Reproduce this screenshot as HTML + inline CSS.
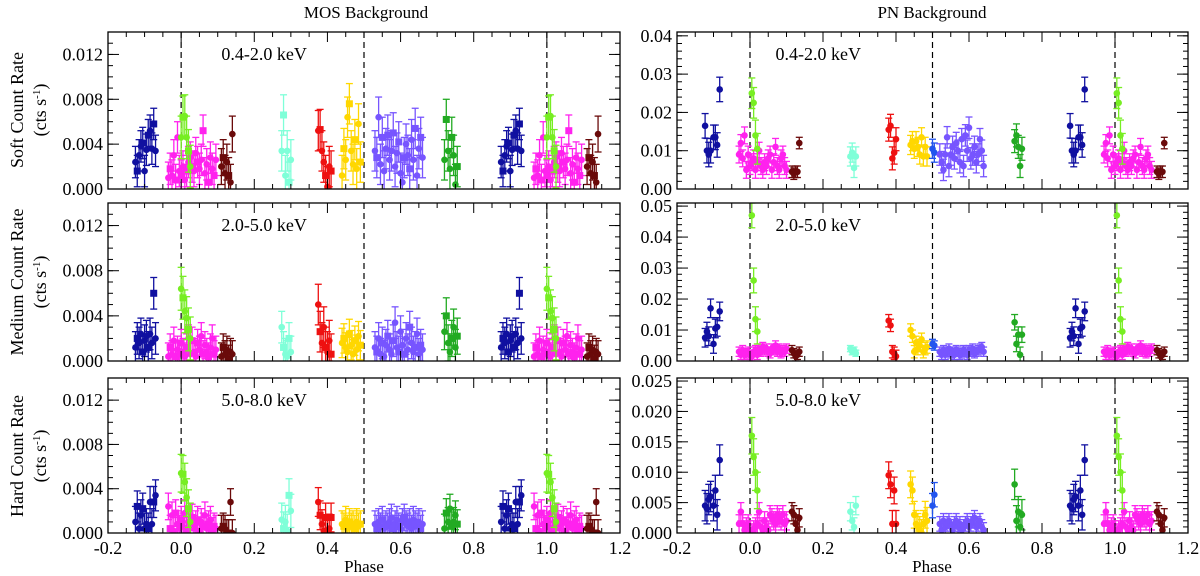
<!DOCTYPE html>
<html><head><meta charset="utf-8">
<style>
html,body{margin:0;padding:0;background:#fff;}
svg{display:block;font-family:"Liberation Serif",serif;}
</style></head>
<body>
<svg id="chart" width="1200" height="576" viewBox="0 0 1200 576" xmlns="http://www.w3.org/2000/svg">
<text x="366" y="18" font-size="17" text-anchor="middle">MOS Background</text>
<text x="932" y="18" font-size="17" text-anchor="middle">PN Background</text>
<text x="364" y="572" font-size="17" text-anchor="middle">Phase</text>
<text x="932" y="572" font-size="17" text-anchor="middle">Phase</text>
<g font-size="18" text-anchor="middle">
<text transform="translate(23,110) rotate(-90)">Soft Count Rate</text>
<text transform="translate(46,110) rotate(-90)">(cts s<tspan font-size="11" dy="-6">-1</tspan><tspan dy="6">)</tspan></text>
</g>
<g font-size="18" text-anchor="middle">
<text transform="translate(23,282) rotate(-90)">Medium Count Rate</text>
<text transform="translate(46,282) rotate(-90)">(cts s<tspan font-size="11" dy="-6">-1</tspan><tspan dy="6">)</tspan></text>
</g>
<g font-size="18" text-anchor="middle">
<text transform="translate(23,456) rotate(-90)">Hard Count Rate</text>
<text transform="translate(46,456) rotate(-90)">(cts s<tspan font-size="11" dy="-6">-1</tspan><tspan dy="6">)</tspan></text>
</g>
</svg>
<script>
// ---------- data (MOS values in cts/s) ----------
const xTicks = [-0.2, 0.0, 0.2, 0.4, 0.6, 0.8, 1.0, 1.2];
const xTickLabels = ["-0.2","0.0","0.2","0.4","0.6","0.8","1.0","1.2"];
const bandLabels = ["0.4-2.0 keV","2.0-5.0 keV","5.0-8.0 keV"];
const phaseMarkers = [0.0, 0.5, 1.0];

const mosNavyPhase = [-0.125,-0.12,-0.115,-0.11,-0.105,-0.1,-0.095,-0.09,-0.085,-0.08,-0.075,-0.07];
const mosNavySoft = [2.4,1.6,3.0,3.8,4.1,1.6,3.5,4.8,5.2,3.6,5.8,3.4];
const mosNavyMid = [1.2,2.0,1.6,2.4,0.8,1.8,2.2,1.2,2.4,1.6,6.0,2.0];
const mosNavyHard = [1.0,2.4,0.4,1.6,2.2,0.4,0.8,0.4,2.8,0.8,2.8,3.4];

const mosMagentaPhase = [-0.035,-0.03,-0.025,-0.02,-0.015,-0.01,-0.005,0,0.005,0.01,0.015,0.02,0.025,0.03,0.035,0.04,0.045,0.05,0.055,0.06,0.065,0.07,0.075,0.08,0.085,0.09,0.095];
const mosMagentaSoft = [1.0,1.8,1.2,3.0,0.8,4.6,1.6,1.2,2.0,0.8,1.6,2.4,2.8,2.0,1.6,3.2,2.4,1.8,2.6,5.2,1.4,2.2,0.6,2.8,1.8,1.2,2.6];
const mosMagentaMid = [0.4,1.2,0.6,1.8,0.4,1.0,0.6,1.6,0.8,0.4,1.2,2.0,0.6,1.8,0.8,0.4,1.6,1.0,2.2,0.6,1.4,0.8,0.4,1.2,2.0,0.6,1.0];
const mosMagentaHard = [2.4,0.4,1.6,0.2,1.8,0.8,0.4,1.2,0.6,1.8,0.2,1.0,0.6,1.4,0.4,0.8,1.2,0.2,1.0,0.6,1.6,0.4,0.8,1.2,0.2,0.6,0.4];

const mosGreenPhase = [0.0,0.005,0.01,0.015,0.02,0.025];
const mosGreenSoft = [4.6,6.4,6.5,4.6,3.4,2.0];
const mosGreenMid = [6.4,5.6,4.4,3.8,2.8,2.0];
const mosGreenHard = [5.4,5.3,4.6,3.2,2.2,1.0];

const mosDarkredPhase = [0.11,0.115,0.12,0.125,0.13,0.135,0.14];
const mosDarkredSoft = [2.0,2.8,1.4,2.4,1.2,0.6,4.9];
const mosDarkredMid = [0.4,1.2,0.6,1.0,0.2,0.8,0.6];
const mosDarkredHard = [0.4,0.6,0.4,0.0,0.0,2.8,0.0];

const mosAquaPhase = [0.275,0.28,0.285,0.29,0.295,0.3];
const mosAquaSoft = [3.4,6.6,1.2,3.4,0.6,2.6];
const mosAquaMid = [3.0,1.2,0.6,0.4,2.0,0.8];
const mosAquaHard = [1.2,0.4,1.0,0.2,3.4,2.0];

const mosRedPhase = [0.375,0.38,0.385,0.39,0.395,0.4,0.405,0.41];
const mosRedSoft = [5.2,5.3,3.4,2.4,1.2,0.2,2.0,1.6];
const mosRedMid = [5.0,2.6,1.6,3.0,1.2,0.8,1.8,0.6];
const mosRedHard = [2.8,1.6,0.8,0.2,1.4,0.2,0.4,1.4];

const mosGoldPhase = [0.44,0.445,0.45,0.455,0.46,0.465,0.47,0.475,0.48,0.485,0.49];
const mosGoldSoft = [1.2,3.6,2.6,6.4,7.6,3.4,2.2,4.4,1.8,5.8,2.4];
const mosGoldMid = [1.6,2.0,1.2,0.8,2.4,1.4,0.6,1.8,1.0,2.2,1.4];
const mosGoldHard = [0.8,0.6,1.2,0.4,1.0,0.6,0.8,0.4,1.0,0.6,0.8];

const mosPurplePhase = [0.53,0.535,0.54,0.545,0.55,0.555,0.56,0.565,0.57,0.575,0.58,0.585,0.59,0.595,0.6,0.605,0.61,0.615,0.62,0.625,0.63,0.635,0.64,0.645,0.65,0.655,0.66];
const mosPurpleSoft = [3.4,2.8,6.4,2.2,4.6,1.6,3.6,4.8,2.6,3.4,5.0,2.0,3.2,4.2,1.4,0.6,2.8,4.0,3.0,1.8,4.4,2.6,5.4,1.2,3.6,4.6,2.8];
const mosPurpleMid = [1.2,0.8,2.0,0.6,1.6,0.4,1.4,2.2,1.0,0.6,1.8,3.4,1.2,0.8,2.6,1.4,0.6,2.0,1.0,3.0,1.6,0.8,1.2,2.4,0.6,1.4,1.0];
const mosPurpleHard = [0.8,0.4,1.0,0.6,1.2,0.4,0.8,0.6,1.0,1.4,0.4,0.8,1.2,0.6,0.4,1.0,1.4,0.8,0.6,1.0,0.4,1.2,0.8,0.6,1.0,0.4,0.8];

const mosGreen2Phase = [0.72,0.725,0.73,0.735,0.74,0.745,0.75,0.755];
const mosGreen2Soft = [2.6,6.2,3.4,1.8,4.6,3.0,0.4,2.0];
const mosGreen2Mid = [2.6,4.0,1.6,0.8,2.0,3.0,1.2,2.2];
const mosGreen2Hard = [0.4,1.8,1.0,2.2,0.6,1.0,1.6,0.8];

// ---------- data (PN values in cts/s) ----------
const pnNavyPhase = [-0.123,-0.118,-0.113,-0.108,-0.1,-0.095,-0.09,-0.083];
const pnNavySoft = [0.0165,0.010,0.009,0.010,0.0135,0.0135,0.0115,0.026];
const pnNavyMid = [0.0075,0.0095,0.008,0.017,0.0055,0.0105,0.011,0.016];
const pnNavyHard = [0.0045,0.004,0.0055,0.006,0.0045,0.007,0.003,0.012];

const pnMagentaPhase = [-0.03,-0.025,-0.02,-0.015,-0.01,-0.005,0,0.005,0.01,0.015,0.02,0.025,0.03,0.035,0.04,0.045,0.05,0.055,0.06,0.065,0.07,0.075,0.08,0.085,0.09,0.095,0.1];
const pnMagentaSoft = [0.009,0.012,0.008,0.014,0.005,0.009,0.006,0.007,0.008,0.005,0.007,0.010,0.006,0.005,0.007,0.006,0.008,0.009,0.005,0.007,0.011,0.006,0.005,0.008,0.009,0.006,0.005];
const pnMagentaMid = [0.003,0.002,0.0035,0.002,0.0025,0.003,0.002,0.0015,0.003,0.0035,0.002,0.004,0.003,0.0045,0.0035,0.004,0.003,0.0025,0.004,0.0035,0.005,0.003,0.004,0.0025,0.0035,0.003,0.004];
const pnMagentaHard = [0.0015,0.0035,0.0015,0.0005,0.001,0.0015,0.0005,0,0.0005,0.001,0.0015,0.0035,0.001,0.0005,0.002,0.001,0.0005,0.003,0.0025,0.002,0.0015,0.003,0.0025,0.002,0.003,0.0015,0.002];

const pnGreenPhase = [0.005,0.01,0.015,0.02];
const pnGreenSoft = [0.025,0.0225,0.014,0.0105];
const pnGreenMid = [0.047,0.026,0.0135,0.0095];
const pnGreenHard = [0.016,0.0125,0.010,0.007];

const pnDarkredPhase = [0.115,0.12,0.125,0.13,0.135];
const pnDarkredSoft = [0.0045,0.004,0.0045,0.0045,0.012];
const pnDarkredMid = [0.0035,0.0025,0.0015,0.002,0.003];
const pnDarkredHard = [0.0035,0.003,0.0015,0.0005,0.0025];

const pnAquaPhase = [0.275,0.28,0.285,0.29];
const pnAquaSoft = [0.0085,0.0095,0.0055,0.0085];
const pnAquaMid = [0.004,0.003,0.0035,0.0025];
const pnAquaHard = [0.0035,0.002,0.001,0.0045];

const pnRedPhase = [0.38,0.385,0.39,0.395,0.4];
const pnRedSoft = [0.0155,0.0165,0.008,0.0095,0.013];
const pnRedMid = [0.013,0.0115,0.003,0.0025,0.0015];
const pnRedHard = [0.0095,0.008,0.0015,0.007,0.0015];

const pnGoldPhase = [0.44,0.445,0.45,0.455,0.46,0.465,0.47,0.475,0.48,0.485];
const pnGoldSoft = [0.0115,0.0125,0.0105,0.0125,0.011,0.009,0.0135,0.0085,0.011,0.0085];
const pnGoldMid = [0.010,0.008,0.003,0.006,0.004,0.005,0.007,0.003,0.004,0.0045];
const pnGoldHard = [0.008,0.007,0.003,0.0015,0.001,0.0005,0,0.0015,0.003,0.002];

const pnBluePhase = [0.5,0.505];
const pnBlueSoft = [0.0105,0.0095];
const pnBlueMid = [0.0055,0.005];
const pnBlueHard = [0.0045,0.0063];

const pnPurplePhase = [0.52,0.525,0.53,0.535,0.54,0.545,0.55,0.555,0.56,0.565,0.57,0.575,0.58,0.585,0.59,0.595,0.6,0.605,0.61,0.615,0.62,0.625,0.63,0.635,0.64];
const pnPurpleSoft = [0.009,0.007,0.005,0.009,0.0135,0.006,0.009,0.011,0.008,0.012,0.010,0.007,0.013,0.006,0.014,0.010,0.016,0.008,0.009,0.011,0.007,0.009,0.013,0.010,0.006];
const pnPurpleMid = [0.003,0.002,0.0035,0.002,0.003,0.004,0.0025,0.003,0.002,0.0035,0.003,0.002,0.0025,0.0035,0.003,0.002,0.0035,0.003,0.004,0.0025,0.003,0.0035,0.004,0.0045,0.003];
const pnPurpleHard = [0.0015,0.0005,0.002,0.001,0.0015,0.002,0.001,0.0005,0.0015,0.002,0.001,0.0015,0.0005,0.001,0.0015,0.002,0.001,0.0015,0.002,0.0025,0.001,0.0015,0.002,0.001,0.0005];

const pnGreen2Phase = [0.725,0.73,0.735,0.74,0.745];
const pnGreen2Soft = [0.0125,0.014,0.011,0.006,0.0105];
const pnGreen2Mid = [0.0125,0.0055,0.0085,0.002,0.0085];
const pnGreen2Hard = [0.008,0.002,0.0035,0.001,0.003];

// ---------- rendering ----------
const NS = "http://www.w3.org/2000/svg";
const svg = document.getElementById("chart");
function mk(tag, attrs, parent) {
  const e = document.createElementNS(NS, tag);
  for (const k in attrs) e.setAttribute(k, attrs[k]);
  parent.appendChild(e);
  return e;
}

const panelRows = [{top:32,bottom:189},{top:203,bottom:361},{top:378,bottom:533}];
const panelCols = [{left:108,right:620,bandX:0.11},{left:677,right:1188,bandX:0.07}];

const mosAxes = [
  {max:0.014, major:[0,0.004,0.008,0.012], labels:["0.000","0.004","0.008","0.012"], minor:0.001},
  {max:0.014, major:[0,0.004,0.008,0.012], labels:["0.000","0.004","0.008","0.012"], minor:0.001},
  {max:0.014, major:[0,0.004,0.008,0.012], labels:["0.000","0.004","0.008","0.012"], minor:0.001}
];
const pnAxes = [
  {max:0.041, major:[0,0.01,0.02,0.03,0.04], labels:["0.00","0.01","0.02","0.03","0.04"], minor:0.002},
  {max:0.051, major:[0,0.01,0.02,0.03,0.04,0.05], labels:["0.00","0.01","0.02","0.03","0.04","0.05"], minor:0.002},
  {max:0.0255, major:[0,0.005,0.01,0.015,0.02,0.025], labels:["0.000","0.005","0.010","0.015","0.020","0.025"], minor:0.001}
];

const C = {navy:"#1010a0", magenta:"#ff22ee", green:"#77ee22", darkred:"#6a0a0a", aqua:"#7fffd8", red:"#ee1010", gold:"#ffd700", purple:"#7755ff", green2:"#22aa22", blue:"#2255ee"};

const mosSeries = [
  {n:"navy",p:mosNavyPhase,v:[mosNavySoft,mosNavyMid,mosNavyHard],e:[1.4,1.4,1.4],rep:true},
  {n:"magenta",p:mosMagentaPhase,v:[mosMagentaSoft,mosMagentaMid,mosMagentaHard],e:[1.4,1.2,1.2],rep:true},
  {n:"green",p:mosGreenPhase,v:[mosGreenSoft,mosGreenMid,mosGreenHard],e:[1.9,1.9,1.7],rep:true},
  {n:"darkred",p:mosDarkredPhase,v:[mosDarkredSoft,mosDarkredMid,mosDarkredHard],e:[1.6,1.2,1.2],rep:true},
  {n:"aqua",p:mosAquaPhase,v:[mosAquaSoft,mosAquaMid,mosAquaHard],e:[1.8,1.4,1.5],rep:false},
  {n:"red",p:mosRedPhase,v:[mosRedSoft,mosRedMid,mosRedHard],e:[1.8,1.8,1.3],rep:false},
  {n:"gold",p:mosGoldPhase,v:[mosGoldSoft,mosGoldMid,mosGoldHard],e:[1.8,1.3,1.2],rep:false},
  {n:"purple",p:mosPurplePhase,v:[mosPurpleSoft,mosPurpleMid,mosPurpleHard],e:[1.8,1.4,1.2],rep:false},
  {n:"green2",p:mosGreen2Phase,v:[mosGreen2Soft,mosGreen2Mid,mosGreen2Hard],e:[1.8,1.6,1.3],rep:false}
];
const pnSeries = [
  {n:"navy",p:pnNavyPhase,v:[pnNavySoft,pnNavyMid,pnNavyHard],e:[3.2,3.0,2.5],rep:true},
  {n:"magenta",p:pnMagentaPhase,v:[pnMagentaSoft,pnMagentaMid,pnMagentaHard],e:[2.2,1.5,1.5],rep:true},
  {n:"green",p:pnGreenPhase,v:[pnGreenSoft,pnGreenMid,pnGreenHard],e:[4.0,4.0,3.0],rep:true},
  {n:"darkred",p:pnDarkredPhase,v:[pnDarkredSoft,pnDarkredMid,pnDarkredHard],e:[1.5,1.5,1.5],rep:true},
  {n:"aqua",p:pnAquaPhase,v:[pnAquaSoft,pnAquaMid,pnAquaHard],e:[2.5,1.0,1.5],rep:false},
  {n:"red",p:pnRedPhase,v:[pnRedSoft,pnRedMid,pnRedHard],e:[3.0,2.0,2.2],rep:false},
  {n:"gold",p:pnGoldPhase,v:[pnGoldSoft,pnGoldMid,pnGoldHard],e:[2.5,2.0,2.2],rep:false},
  {n:"blue",p:pnBluePhase,v:[pnBlueSoft,pnBlueMid,pnBlueHard],e:[2.5,1.5,2.0],rep:false},
  {n:"purple",p:pnPurplePhase,v:[pnPurpleSoft,pnPurpleMid,pnPurpleHard],e:[2.8,1.5,1.2],rep:false},
  {n:"green2",p:pnGreen2Phase,v:[pnGreen2Soft,pnGreen2Mid,pnGreen2Hard],e:[3.0,2.5,2.5],rep:false}
];

function drawPanel(col, row, ax, series, unitScale, errScale, squares, inst) {
  const L = panelCols[col].left, R = panelCols[col].right, T = panelRows[row].top, B = panelRows[row].bottom;
  const xs = p => L + (p + 0.2) / 1.4 * (R - L);
  const ys = v => B - v / ax.max * (B - T);
  const g = mk("g", {}, svg);
  
  
  const cid = "clip" + col + row;
  const cp = mk("clipPath", {id: cid}, g);
  mk("rect", {x:L, y:T, width:R-L, height:B-T}, cp);
  phaseMarkers.forEach(p => {
    const dl = mk("line", {x1:xs(p), x2:xs(p), y1:T, y2:B, stroke:"#000", "stroke-width":1.2, "stroke-dasharray":"6,4"}, g);
    
    
  });
  const dg = mk("g", {"clip-path":"url(#"+cid+")"}, g);
  series.forEach(s => {
    const sg = mk("g", {}, dg);
    
    
    const shifts = s.rep ? [0, 1] : [0];
    const vals = s.v[row];
    const err = s.e[row] * errScale;
    shifts.forEach(sh => {
      s.p.forEach((p, i) => {
        const v = vals[i] * unitScale;
        const x = xs(p + sh), y = ys(v), y1 = ys(v + err), y2 = ys(Math.max(v - err, -0.01));
        const col_ = C[s.n];
        mk("line", {x1:x, x2:x, y1:y1, y2:y2, stroke:col_, "stroke-width":1.3}, sg);
        mk("line", {x1:x-3.5, x2:x+3.5, y1:y1, y2:y1, stroke:col_, "stroke-width":1.3}, sg);
        mk("line", {x1:x-3.5, x2:x+3.5, y1:y2, y2:y2, stroke:col_, "stroke-width":1.3}, sg);
        let m;
        if (squares && i % 3 === 1) m = mk("rect", {x:x-3.5, y:y-3.5, width:7, height:7, fill:col_}, sg);
        else m = mk("circle", {cx:x, cy:y, r:3.3, fill:col_}, sg);
        
        
      });
    });
  });
  const fr = mk("rect", {x:L, y:T, width:R-L, height:B-T, fill:"none", stroke:"#000", "stroke-width":1.3}, g);
  
  
  const tg = mk("g", {stroke:"#000", "stroke-width":1}, g);
  for (let v = 0; v <= ax.max + 1e-9; v += ax.minor) {
    const y = ys(v);
    mk("line", {x1:L, x2:L+5, y1:y, y2:y}, tg);
    mk("line", {x1:R, x2:R-5, y1:y, y2:y}, tg);
  }
  ax.major.forEach((v, i) => {
    const y = ys(v);
    mk("line", {x1:L, x2:L+11, y1:y, y2:y}, tg);
    mk("line", {x1:R, x2:R-11, y1:y, y2:y}, tg);
    const t = mk("text", {x:L-5, y:y+6, "font-size":18, "text-anchor":"end"}, g);
    t.textContent = ax.labels[i];
    
    
  });
  for (let k = 0; k <= 28; k++) {
    const p = -0.2 + k * 0.05;
    const x = xs(p);
    const len = (k % 4 === 0) ? 10 : 5;
    mk("line", {x1:x, x2:x, y1:B, y2:B-len}, tg);
    mk("line", {x1:x, x2:x, y1:T, y2:T+len}, tg);
  }
  if (row === 2) {
    xTicks.forEach((p, i) => {
      const t = mk("text", {x:xs(p), y:B+21, "font-size":18, "text-anchor":"middle"}, g);
      t.textContent = xTickLabels[i];
      
      
    });
  }
  const bl = mk("text", {x:xs(panelCols[col].bandX), y:T+28, "font-size":18}, g);
  bl.textContent = bandLabels[row];
  
  
}

for (let r = 0; r < 3; r++) {
  drawPanel(0, r, mosAxes[r], mosSeries, 0.001, 0.001, true, "mos");
  drawPanel(1, r, pnAxes[r], pnSeries, 1, 0.001, false, "pn");
}
</script>
</body></html>
